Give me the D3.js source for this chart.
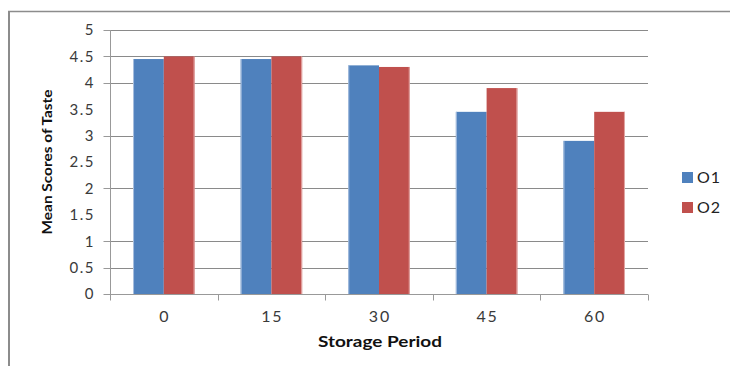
<!DOCTYPE html>
<html>
<head>
<meta charset="utf-8">
<script src="https://cdn.jsdelivr.net/npm/d3@7"></script>
<style>
  html, body { margin: 0; padding: 0; background: #fff; }
  svg { display: block; }
</style>
</head>
<body>
<svg id="chart" width="730" height="366"></svg>
<script>
// Storage period (days) on the x axis
const periods = ["0", "15", "30", "45", "60"];
// Mean taste scores for the two samples
const seriesNames = ["O1", "O2"];
const o1Scores = [4.45, 4.45, 4.33, 3.45, 2.9];
const o2Scores = [4.5, 4.5, 4.3, 3.9, 3.45];
// Value axis labels and the horizontal rules drawn across the plot
const yTickValues = [0, 0.5, 1, 1.5, 2, 2.5, 3, 3.5, 4, 4.5, 5];
const gridValues = [0.5, 1, 2, 3, 4, 4.5, 5];
const tickMarkValues = [0, 0.5, 1, 2, 3, 4, 4.5, 5];

const colors = ["#4f81bd", "#c0504d"];
const edgeColors = ["#a9c0df", "#e3a8a6"];

const svg = d3.select("#chart");
const font = "Lato, 'Open Sans', sans-serif";

const plot = { left: 110, right: 648, top: 30, bottom: 294 };

// outer frame (top and left edges)
svg.append("line").attr("x1", 8).attr("x2", 730).attr("y1", 11.5).attr("y2", 11.5)
  .attr("stroke", "#8c8c8c").attr("stroke-width", 1.5);
svg.append("line").attr("x1", 9).attr("x2", 9).attr("y1", 11).attr("y2", 366)
  .attr("stroke", "#8c8c8c").attr("stroke-width", 2);

const x = d3.scaleBand().domain(periods)
  .range([plot.left, plot.right])
  .paddingInner(1.5 / 3.5).paddingOuter(0.75 / 3.5);
const xSub = d3.scaleBand().domain(seriesNames).range([0, x.bandwidth()]);
const y = d3.scaleLinear().domain([0, 5]).range([plot.bottom, plot.top]);

const crisp = v => Math.round(v) + 0.5;

// horizontal gridlines
svg.append("g").selectAll("line").data(gridValues).join("line")
  .attr("x1", plot.left).attr("x2", plot.right)
  .attr("y1", d => crisp(y(d))).attr("y2", d => crisp(y(d)))
  .attr("stroke", "#8a8a8a").attr("stroke-width", 1);

// bars
const rows = periods.map((p, i) => ({ period: p, values: [o1Scores[i], o2Scores[i]] }));
const groups = svg.append("g").selectAll("g").data(rows).join("g")
  .attr("transform", d => `translate(${x(d.period)},0)`);
groups.selectAll("rect").data(d => d.values.map((v, k) => ({ name: seriesNames[k], k, v })))
  .join("rect")
  .attr("x", d => xSub(d.name))
  .attr("y", d => y(d.v))
  .attr("width", xSub.bandwidth())
  .attr("height", d => y(0) - y(d.v))
  .attr("fill", d => colors[d.k]);
// soft bar edges: left of the blue bar, right of the red bar
groups.selectAll("line.edge").data(d => d.values.map((v, k) => ({ name: seriesNames[k], k, v })))
  .join("line").attr("class", "edge")
  .attr("x1", d => d.k === 0 ? xSub(d.name) + 0.5 : xSub(d.name) + xSub.bandwidth() - 0.5)
  .attr("x2", d => d.k === 0 ? xSub(d.name) + 0.5 : xSub(d.name) + xSub.bandwidth() - 0.5)
  .attr("y1", d => y(d.v)).attr("y2", y(0))
  .attr("stroke", d => edgeColors[d.k]).attr("stroke-width", 1);

// value axis
const yAxis = svg.append("g").attr("transform", `translate(${crisp(plot.left)},0)`)
  .call(d3.axisLeft(y).tickValues(yTickValues).tickFormat(d3.format("")).tickSize(0).tickPadding(17));
yAxis.select(".domain").remove();
yAxis.selectAll("text").attr("font-family", font).attr("font-size", 15)
  .attr("letter-spacing", 1.5).attr("dx", 1.5).attr("fill", "#3a3a3a");
yAxis.append("line").attr("x1", 0).attr("x2", 0).attr("y1", plot.top).attr("y2", plot.bottom + 6)
  .attr("stroke", "#999").attr("stroke-width", 1);
yAxis.selectAll("line.mark").data(tickMarkValues).join("line").attr("class", "mark")
  .attr("x1", -7).attr("x2", 0)
  .attr("y1", d => crisp(y(d))).attr("y2", d => crisp(y(d)))
  .attr("stroke", "#999");

// category axis
const xAxis = svg.append("g").attr("transform", `translate(0,${crisp(plot.bottom)})`)
  .call(d3.axisBottom(x).tickSize(0).tickPadding(16));
xAxis.select(".domain").remove();
xAxis.selectAll("text").attr("font-family", font).attr("font-size", 16)
  .attr("letter-spacing", 1.8).attr("dx", 0.9).attr("fill", "#3a3a3a");
xAxis.append("line").attr("x1", plot.left).attr("x2", plot.right).attr("y1", 0).attr("y2", 0)
  .attr("stroke", "#999");
const boundaries = periods.map(p => x(p) - x.step() * x.paddingOuter()).concat([plot.right]);
xAxis.selectAll("line.mark").data(boundaries).join("line").attr("class", "mark")
  .attr("x1", d => crisp(d)).attr("x2", d => crisp(d)).attr("y1", 0).attr("y2", 6)
  .attr("stroke", "#999");

// axis titles
svg.append("text").attr("x", 380).attr("y", 347).attr("text-anchor", "middle")
  .attr("font-family", font).attr("font-weight", "bold").attr("font-size", 15)
  .attr("textLength", 124).attr("lengthAdjust", "spacingAndGlyphs")
  .attr("fill", "#111").text("Storage Period");
svg.append("text").attr("transform", "translate(52,162) rotate(-90)").attr("text-anchor", "middle")
  .attr("font-family", font).attr("font-weight", "bold").attr("font-size", 14)
  .attr("textLength", 145).attr("lengthAdjust", "spacingAndGlyphs")
  .attr("fill", "#111").text("Mean Scores of Taste");

// legend
const legend = svg.append("g").selectAll("g").data(seriesNames).join("g")
  .attr("transform", (d, i) => `translate(682,${172 + i * 30})`);
legend.append("rect").attr("width", 11).attr("height", 11).attr("fill", (d, i) => colors[i]);
legend.append("text").attr("x", 15).attr("y", 11)
  .attr("font-family", font).attr("font-size", 16).attr("letter-spacing", 1)
  .attr("fill", "#222").text(d => d);
</script>
</body>
</html>
